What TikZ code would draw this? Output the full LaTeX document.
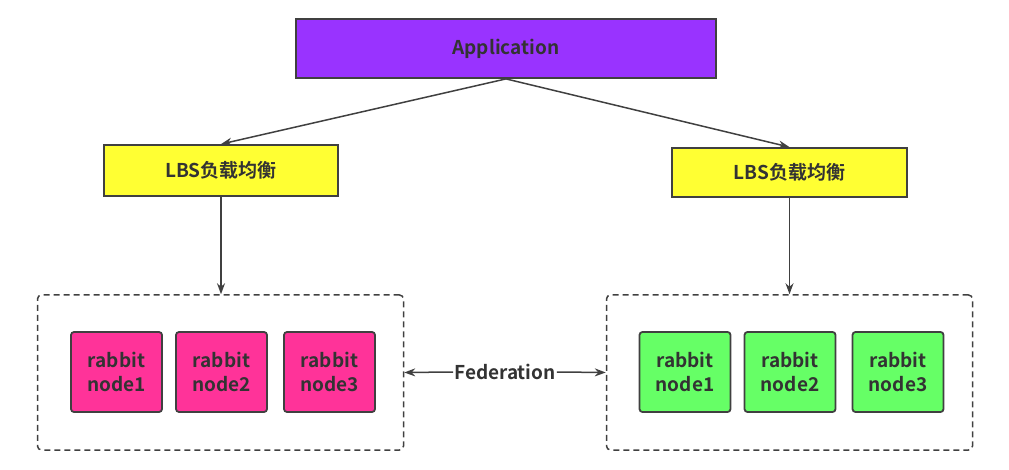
\documentclass[tikz,border=0pt]{standalone}
\usepackage{fontspec}
\setmainfont{Noto Sans CJK SC}[BoldFont={Noto Sans CJK SC Bold}]
\usetikzlibrary{arrows.meta}
\definecolor{appcol}{HTML}{9933FF}
\definecolor{lbscol}{HTML}{FFFF33}
\definecolor{pinkcol}{HTML}{FF3399}
\definecolor{greencol}{HTML}{66FF66}
\definecolor{edgecol}{HTML}{404040}
\definecolor{txtcol}{HTML}{333333}
\tikzset{
  box/.style={draw=edgecol,line width=1.8pt,inner sep=0pt,text=txtcol,
    font=\bfseries\fontsize{19}{24}\selectfont,align=center},
  rabbit/.style={box,rounded corners=3pt,minimum width=91pt,minimum height=80pt},
  cluster/.style={draw=edgecol,line width=1.5pt,dash pattern=on 6pt off 4pt,rounded corners=4pt,
    inner sep=0pt,minimum width=366pt,minimum height=155pt},
  arr/.style={draw=edgecol,line width=1.5pt,-{Stealth[length=11pt,width=8pt]}},
}
\begin{document}
\begin{tikzpicture}[x=1pt,y=-1pt]
    \useasboundingbox (0,0) rectangle (1009,470);

    % Top
    \node[box,fill=appcol,minimum width=420pt,minimum height=59pt] (app) at (506,48.5) {Application};

    % Load balancers
    \node[box,fill=lbscol,minimum width=234pt,minimum height=51pt] (lbsL) at (221,170.5) {LBS负载均衡};
    \node[box,fill=lbscol,minimum width=235pt,minimum height=49pt] (lbsR) at (789.5,172.5) {LBS负载均衡};

    % Clusters
    \node[cluster] (boxL) at (220.5,372.5) {};
    \node[cluster] (boxR) at (789.5,372.5) {};

    \node[rabbit,fill=pinkcol] (pink1) at (116.5,372) {rabbit\\node1};
    \node[rabbit,fill=pinkcol] (pink2) at (221.5,372) {rabbit\\node2};
    \node[rabbit,fill=pinkcol] (pink3) at (329.5,372) {rabbit\\node3};

    \node[rabbit,fill=greencol] (green1) at (685,372) {rabbit\\node1};
    \node[rabbit,fill=greencol] (green2) at (790,372) {rabbit\\node2};
    \node[rabbit,fill=greencol] (green3) at (898,372) {rabbit\\node3};

    % Arrows
    \draw[arr] (app.south) -- (lbsL.north);
    \draw[arr] (app.south) -- (lbsR.north);
    \draw[arr] (lbsL.south) -- (lbsL.south |- boxL.north);
    \draw[arr] (lbsR.south) -- (lbsR.south |- boxR.north);

    % Federation
    \node[text=txtcol,font=\bfseries\fontsize{19}{22}\selectfont,inner sep=1pt] (fed) at (505,372) {Federation};
    \draw[arr] (fed.west) -- (boxL.east);
    \draw[arr] (fed.east) -- (boxR.west);

\end{tikzpicture}
\end{document}
